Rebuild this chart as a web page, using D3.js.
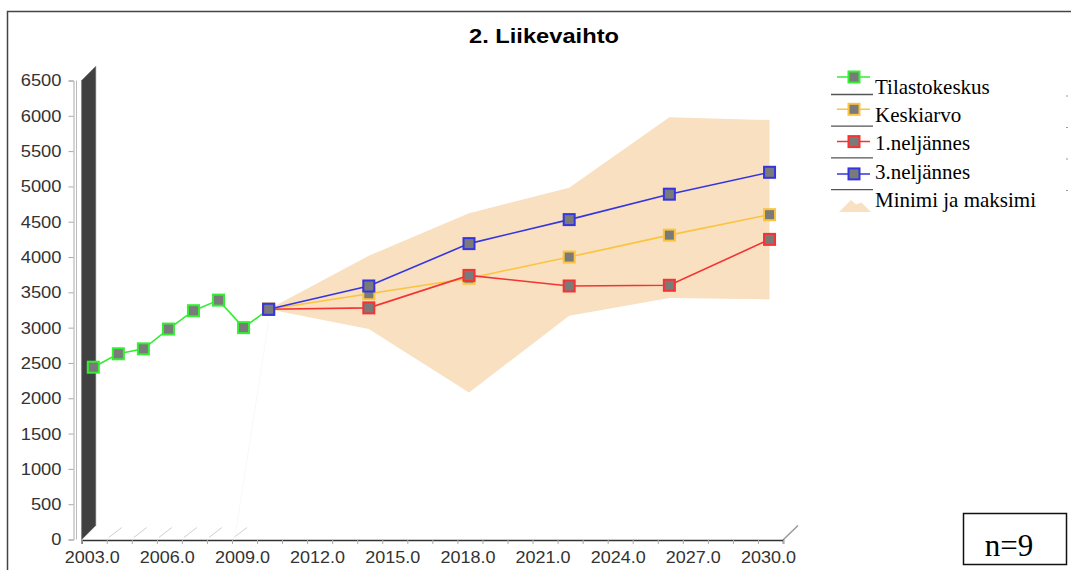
<!DOCTYPE html>
<html>
<head>
<meta charset="utf-8">
<script src="https://cdn.jsdelivr.net/npm/d3@7"></script>
<style>
  body { margin: 0; background: #fff; }
  svg { display: block; }
  .tick text { font-family: "Liberation Sans", Arial, sans-serif; fill: #333; }
</style>
</head>
<body>
<svg id="chart" width="1071" height="570"></svg>
<script>
// data
var histYears = [2003, 2004, 2005, 2006, 2007, 2008, 2009, 2010];
var tilastokeskus = [2440, 2630, 2700, 2980, 3240, 3390, 3000, 3260];

var fcYears = [2010, 2014, 2018, 2022, 2026, 2030];
var keskiarvo = [3260, 3480, 3700, 4000, 4310, 4600];
var neljannes1 = [3260, 3280, 3740, 3590, 3600, 4250];
var neljannes3 = [3260, 3590, 4190, 4530, 4890, 5200];
var minimi = [3260, 2980, 2080, 3170, 3420, 3400];
var maksimi = [3260, 4020, 4620, 4980, 5980, 5940];

var yTicks = d3.range(0, 6501, 500);
var xLabelYears = d3.range(2003, 2031, 3);

var svg = d3.select("#chart");

var depth = 14;      // 3d box depth
var shift = 11.6;    // series drawn slightly behind the front plane

var x = d3.scaleLinear().domain([2003, 2031]).range([81.7, 783]);
var y = d3.scaleLinear().domain([0, 6500]).range([539.5, 80.5]);

// outer frame (runs off the right and bottom)
svg.append("path")
  .attr("d", "M7.5,575 L7.5,11.5 L1080,11.5")
  .attr("fill", "none").attr("stroke", "#444").attr("stroke-width", 1.5);

// title
svg.append("text")
  .attr("x", 544).attr("y", 43)
  .attr("text-anchor", "middle")
  .attr("font-family", "'Liberation Sans', Arial, sans-serif")
  .attr("font-weight", "bold").attr("font-size", 21)
  .attr("textLength", 150).attr("lengthAdjust", "spacingAndGlyphs")
  .text("2. Liikevaihto");

// dark left wall of the 3d box
var x0 = x(2003), yb = y(0), yt = y(6500);
svg.append("polygon")
  .attr("points", [[x0, yt], [x0 + depth, yt - depth], [x0 + depth, yb - depth], [x0, yb]].join(" "))
  .attr("fill", "#404040").attr("stroke", "#666").attr("stroke-width", 0.8);

// floor grid stubs (only visible left of the area)
svg.append("g").selectAll("line")
  .data(d3.range(2004, 2010))
  .enter().append("line")
  .attr("x1", function(d) { return x(d) + 2; })
  .attr("y1", yb - 2)
  .attr("x2", function(d) { return x(d) + depth + 1; })
  .attr("y2", yb - depth + 2)
  .attr("stroke", "#cfcfcf").attr("stroke-width", 1);

// right floor edge
svg.append("line")
  .attr("x1", x(2031)).attr("y1", yb + 0.5)
  .attr("x2", x(2031) + 15).attr("y2", yb - depth)
  .attr("stroke", "#999").attr("stroke-width", 1.5);

// y axis
var yAxis = svg.append("g")
  .attr("transform", "translate(73.5,0)")
  .call(d3.axisLeft(y).tickValues(yTicks).tickSize(5).tickPadding(7).tickFormat(d3.format("d")));
yAxis.select(".domain").attr("stroke", "#aaa");
yAxis.selectAll(".tick line").attr("stroke", "#aaa");
yAxis.selectAll(".tick text").attr("font-size", 17)
  .attr("textLength", function(d) { return String(d).length * 10.2; })
  .attr("lengthAdjust", "spacingAndGlyphs");
svg.append("line")
  .attr("x1", 76.5).attr("x2", 76.5).attr("y1", yt).attr("y2", yb)
  .attr("stroke", "#bbb");

// x axis: minor ticks every year
var xMinor = svg.append("g")
  .attr("transform", "translate(0," + (yb + 0.5) + ")")
  .call(d3.axisBottom(x).tickValues(d3.range(2003, 2032)).tickSize(4).tickFormat(""));
xMinor.select(".domain").attr("stroke", "#333").attr("stroke-width", 1.5);
xMinor.selectAll(".tick line").attr("stroke", "#aaa");

// x axis labels
var xLab = svg.append("g")
  .attr("transform", "translate(10," + (yb + 0.5) + ")")
  .call(d3.axisBottom(x).tickValues(xLabelYears).tickSize(0).tickPadding(11).tickFormat(d3.format(".1f")));
xLab.select(".domain").remove();
xLab.selectAll(".tick text").attr("font-size", 17)
  .attr("textLength", 55).attr("lengthAdjust", "spacingAndGlyphs");

// min-max area
var px = function(yr) { return x(yr) + shift; };
var area = d3.area()
  .x(function(d, i) { return px(fcYears[i]); })
  .y0(function(d, i) { return y(minimi[i]); })
  .y1(function(d, i) { return y(maksimi[i]); });
svg.append("path")
  .datum(fcYears)
  .attr("d", area)
  .attr("fill", "#f8e0c1");

// faint side edge of the 3d area
svg.append("line")
  .attr("x1", px(2010)).attr("y1", y(3260) + 12)
  .attr("x2", px(2009) - 9).attr("y2", yb)
  .attr("stroke", "#f8f8f8").attr("stroke-width", 1);

var series = [
  { years: histYears, values: tilastokeskus, color: "#33ee33" },
  { years: fcYears, values: keskiarvo, color: "#fbc43c" },
  { years: fcYears, values: neljannes1, color: "#f53333" },
  { years: fcYears, values: neljannes3, color: "#3535e0" }
];

var line = d3.line()
  .x(function(d) { return px(d[0]); })
  .y(function(d) { return y(d[1]); });

series.forEach(function(s) {
  var pts = d3.zip(s.years, s.values);
  var g = svg.append("g");
  g.append("path")
    .datum(pts)
    .attr("d", line)
    .attr("fill", "none").attr("stroke", s.color).attr("stroke-width", 1.6);
  g.selectAll("rect")
    .data(pts)
    .enter().append("rect")
    .attr("x", function(d) { return px(d[0]) - 5.5; })
    .attr("y", function(d) { return y(d[1]) - 5.5; })
    .attr("width", 11).attr("height", 11)
    .attr("fill", "#7a7a7a")
    .attr("stroke", s.color).attr("stroke-width", 2);
});

// legend
var legendNames = ["Tilastokeskus", "Keskiarvo", "1.neljännes", "3.neljännes", "Minimi ja maksimi"];
var legendColors = ["#33ee33", "#fbc43c", "#f53333", "#3535e0"];
var leg = svg.append("g");
legendNames.forEach(function(name, i) {
  leg.append("text")
    .attr("x", 875).attr("y", 94 + i * 28.2)
    .attr("font-family", "'Liberation Serif', 'Times New Roman', serif")
    .attr("font-size", 21)
    .text(name);
});
legendColors.forEach(function(c, i) {
  var sy = 77 + i * 32.3;
  leg.append("line")
    .attr("x1", 837).attr("x2", 870).attr("y1", sy).attr("y2", sy)
    .attr("stroke", c).attr("stroke-width", 1.5);
  leg.append("rect")
    .attr("x", 848.5).attr("y", sy - 5.5).attr("width", 11).attr("height", 11)
    .attr("fill", "#7a7a7a").attr("stroke", c).attr("stroke-width", 2);
  leg.append("line")
    .attr("x1", 831).attr("x2", 873).attr("y1", 94.5 + i * 31.7).attr("y2", 94.5 + i * 31.7)
    .attr("stroke", "#555").attr("stroke-width", 1.3);
  leg.append("line")
    .attr("x1", 1066).attr("x2", 1068).attr("y1", 96 + i * 31.5).attr("y2", 96 + i * 31.5)
    .attr("stroke", "#999");
});
leg.append("polygon")
  .attr("points", "839,212 851,200 856,204.5 861.5,202.5 871,212")
  .attr("fill", "#f8e0c1");

// n box
svg.append("rect")
  .attr("x", 963.5).attr("y", 513.5).attr("width", 103).attr("height", 51)
  .attr("fill", "#fff").attr("stroke", "#111").attr("stroke-width", 1.5);
svg.append("text")
  .attr("x", 1009).attr("y", 556)
  .attr("text-anchor", "middle")
  .attr("font-family", "'Liberation Serif', 'Times New Roman', serif")
  .attr("font-size", 31)
  .text("n=9");
</script>
</body>
</html>
